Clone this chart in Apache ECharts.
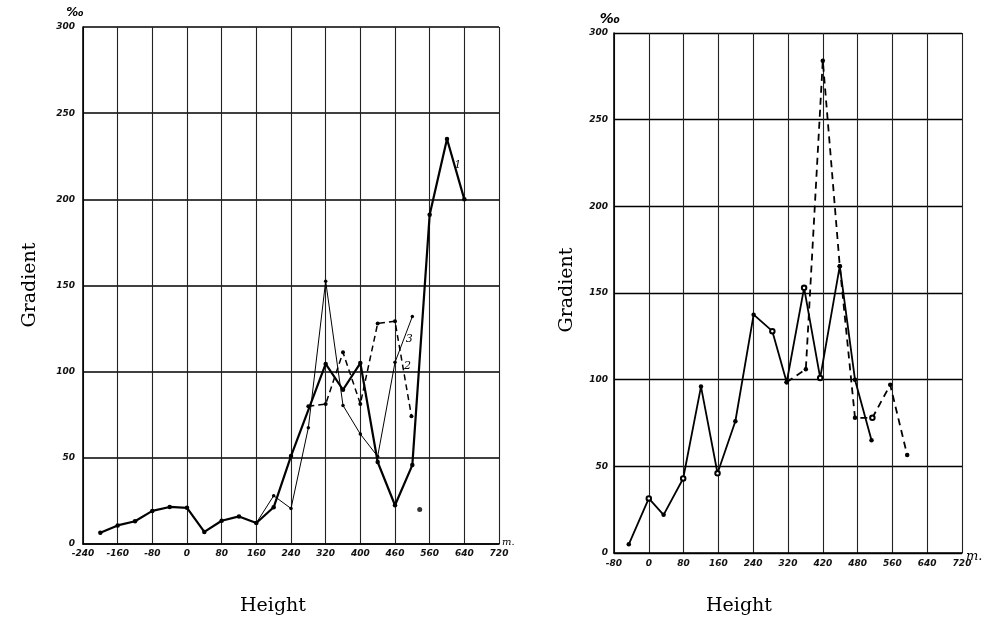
<!DOCTYPE html>
<html><head><meta charset="utf-8">
<script src="https://cdn.jsdelivr.net/npm/echarts@6/dist/echarts.min.js"></script>
<style>html,body{margin:0;padding:0;background:#fff}#c{width:984px;height:619px}</style>
</head><body><div id="c"></div>
<script>
// ---- Left chart data ----
const leftXLabels = ['-240','-160','-80','0','80','160','240','320','400','460','560','640','720'];
const yLabels = ['0','50','100','150','200','250','300'];
const curve1X = [-200,-160,-120,-80,-40,0,40,80,120,160,200,240,320,360,400,440,480,520,560,600,640];
const curve1Y = [6.5,10.8,13.2,19.2,21.5,21,7,13.5,16,12.2,21.3,51,104.5,89.5,105,47.6,22.5,45.8,191,235,200];
const curve2X = [280,320,360,400,440,480,518];
const curve2Y = [80,81.2,111.2,81.3,128,129.2,74.2];
const curve3X = [160,200,240,280,320,360,400,440,480,520];
const curve3Y = [12.2,28,20.6,67.4,152.5,80.4,63.8,50.8,105.4,132];
const strayX = [537];
const strayY = [20];
// ---- Right chart data ----
const rightXLabels = ['-80','0','80','160','240','320','420','480','560','640','720'];
const solidX = [-46,0,34,79,120,158,199,241,284,317,357,394,439,474,512];
const solidY = [5,31.5,22,43,96,46,76,137.5,128,98.5,153,101,165.5,100,65];
const solidOpenX = [0,79,158,284,357,394];
const dashedX = [317,361,400,439,474,514,555,594];
const dashedY = [98.5,106,284,165.5,78,78,97,56.5];
const dashedOpenX = [514];

const zip = (xs, ys, openXs) => xs.map((x, i) => {
  if (openXs && openXs.indexOf(x) >= 0) return {value: [x, ys[i]], symbol: 'emptyCircle'};
  return [x, ys[i]];
});

const tickFont = {fontStyle: 'italic', fontWeight: 'bold', fontSize: 9, color: '#111', fontFamily: 'DejaVu Sans'};

function xAxisCfg(idx, min, labels, margin) {
  return {
    gridIndex: idx, type: 'value', min: min, max: 720, interval: 80,
    axisLine: {show: true, onZero: false, lineStyle: {color: '#000', width: 1.6}},
    axisTick: {show: false},
    splitLine: {show: true, lineStyle: {color: '#222', width: 1.1}},
    axisLabel: Object.assign({margin: margin, formatter: v => labels[Math.round((v - min) / 80)]}, tickFont)
  };
}
function yAxisCfg(idx, hw, margin) {
  return {
    gridIndex: idx, type: 'value', min: 0, max: 300, interval: 50,
    axisLine: {show: true, onZero: false, lineStyle: {color: '#000', width: 1.6}},
    axisTick: {show: false},
    splitLine: {show: true, lineStyle: {color: '#000', width: hw}},
    axisLabel: Object.assign({margin: margin, formatter: v => yLabels[Math.round(v / 50)]}, tickFont)
  };
}

const labelMark = (txt, x, y) => ({
  symbol: 'circle', symbolSize: 1, itemStyle: {color: 'rgba(0,0,0,0)'},
  label: {show: true, position: 'inside', formatter: txt, fontStyle: 'italic', fontSize: 11, color: '#000', fontFamily: 'DejaVu Serif'},
  data: [{coord: [x, y]}]
});

const chart = echarts.init(document.getElementById('c'), null, {renderer: 'canvas'});
chart.setOption({
  backgroundColor: '#fff',
  animation: false,
  grid: [
    {left: 83, top: 27, width: 416, height: 517},
    {left: 614, top: 33, width: 348, height: 520}
  ],
  xAxis: [xAxisCfg(0, -240, leftXLabels, 5), xAxisCfg(1, -80, rightXLabels, 6)],
  yAxis: [yAxisCfg(0, 1.7, 8), yAxisCfg(1, 1.3, 6)],
  series: [
    {type: 'line', xAxisIndex: 0, yAxisIndex: 0, data: zip(curve1X, curve1Y),
     symbol: 'circle', symbolSize: 4.5, itemStyle: {color: '#000'},
     lineStyle: {color: '#000', width: 2.2}, markPoint: labelMark('1', 625, 220)},
    {type: 'line', xAxisIndex: 0, yAxisIndex: 0, data: zip(curve2X, curve2Y),
     symbol: 'circle', symbolSize: 4, itemStyle: {color: '#000'},
     lineStyle: {color: '#000', width: 1.5, type: [6, 4]}, markPoint: labelMark('2', 509, 103)},
    {type: 'line', xAxisIndex: 0, yAxisIndex: 0, data: zip(curve3X, curve3Y),
     symbol: 'circle', symbolSize: 3.5, itemStyle: {color: '#000'},
     lineStyle: {color: '#000', width: 1}, markPoint: labelMark('3', 513, 119)},
    {type: 'scatter', xAxisIndex: 0, yAxisIndex: 0, data: zip(strayX, strayY),
     symbol: 'circle', symbolSize: 5, itemStyle: {color: '#000'}},
    {type: 'line', xAxisIndex: 1, yAxisIndex: 1, data: zip(solidX, solidY, solidOpenX),
     symbol: 'circle', symbolSize: 4.5, itemStyle: {color: '#000', borderWidth: 1},
     lineStyle: {color: '#000', width: 1.8}},
    {type: 'line', xAxisIndex: 1, yAxisIndex: 1, data: zip(dashedX, dashedY, dashedOpenX),
     symbol: 'circle', symbolSize: 4.5, itemStyle: {color: '#000', borderWidth: 1},
     lineStyle: {color: '#000', width: 1.8, type: [7, 5]}, z: 1}
  ],
  graphic: [
    {type: 'text', x: 30, y: 285, rotation: Math.PI / 2,
     style: {text: 'Gradient', font: '19px "DejaVu Serif"', fill: '#000', align: 'center', verticalAlign: 'middle'}},
    {type: 'text', x: 567, y: 290, rotation: Math.PI / 2,
     style: {text: 'Gradient', font: '19px "DejaVu Serif"', fill: '#000', align: 'center', verticalAlign: 'middle'}},
    {type: 'text', x: 273, y: 606,
     style: {text: 'Height', font: '19px "DejaVu Serif"', fill: '#000', align: 'center', verticalAlign: 'middle'}},
    {type: 'text', x: 739, y: 606,
     style: {text: 'Height', font: '19px "DejaVu Serif"', fill: '#000', align: 'center', verticalAlign: 'middle'}},
    {type: 'text', x: 75, y: 13,
     style: {text: '‰', font: 'italic bold 12px "DejaVu Sans"', fill: '#000', align: 'center', verticalAlign: 'middle'}},
    {type: 'text', x: 610, y: 19,
     style: {text: '‰', font: 'italic bold 14px "DejaVu Sans"', fill: '#000', align: 'center', verticalAlign: 'middle'}},
    {type: 'text', x: 502, y: 542,
     style: {text: 'm.', font: 'italic 10px "DejaVu Serif"', fill: '#000', align: 'left', verticalAlign: 'middle'}},
    {type: 'text', x: 966, y: 557,
     style: {text: 'm.', font: 'italic 13px "DejaVu Serif"', fill: '#000', align: 'left', verticalAlign: 'middle'}}
  ]
});
</script>
</body></html>
